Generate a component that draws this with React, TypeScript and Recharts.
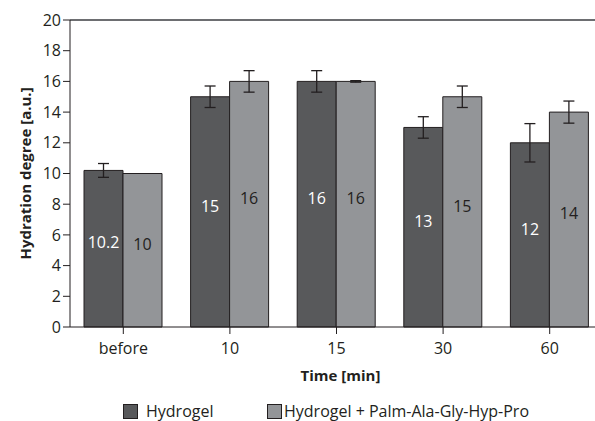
import {
  BarChart,
  Bar,
  XAxis,
  YAxis,
  ErrorBar,
  LabelList,
  Legend,
  ReferenceLine,
} from "recharts";

const times = ["before", "10", "15", "30", "60"];
const hydrogel = [10.2, 15, 16, 13, 12];
const hydrogelErr = [0.45, 0.7, 0.7, 0.7, 1.25];
const peptide = [10, 16, 16, 15, 14];
const peptideErr = [0, 0.7, 0.05, 0.7, 0.72];
const yTicks = [0, 2, 4, 6, 8, 10, 12, 14, 16, 18, 20];

const seriesNames = ["Hydrogel", "Hydrogel + Palm-Ala-Gly-Hyp-Pro"];
const DARK = "#58595b";
const LIGHT = "#939598";
const INK = "#231f20";
const FONT = "'Open Sans', sans-serif";

const data = times.map((time, i) => ({
  time,
  hydrogel: hydrogel[i],
  hydrogelErr: hydrogelErr[i],
  peptide: peptide[i],
  peptideErr: peptideErr[i],
}));

type Box = { x: number; y: number; width: number; height: number };

function YTitle({ viewBox }: { viewBox?: Box }) {
  if (!viewBox) return null;
  const x = viewBox.x + 25;
  const y = viewBox.y + viewBox.height / 2;
  return (
    <text
      x={x}
      y={y}
      transform={`rotate(-90, ${x}, ${y})`}
      textAnchor="middle"
      dominantBaseline="central"
      fontFamily={FONT}
      fontWeight={700}
      fontSize={15}
      fill={INK}
    >
      Hydration degree [a.u.]
    </text>
  );
}

function XTitle({ viewBox }: { viewBox?: Box }) {
  if (!viewBox) return null;
  return (
    <text
      x={viewBox.x + viewBox.width / 2 + 4}
      y={viewBox.y + 48}
      textAnchor="middle"
      dominantBaseline="central"
      fontFamily={FONT}
      fontWeight={700}
      fontSize={15}
      fill={INK}
    >
      Time [min]
    </text>
  );
}

function LegendBox() {
  const swatch = (color: string) => (
    <span
      style={{
        display: "inline-block",
        width: 13,
        height: 13,
        background: color,
        border: `1px solid ${INK}`,
      }}
    />
  );
  return (
    <div
      style={{
        height: 34,
        width: 595,
        display: "flex",
        alignItems: "center",
        paddingTop: 14,
        boxSizing: "border-box",
        fontFamily: FONT,
        fontSize: 16,
        lineHeight: "20px",
        color: INK,
      }}
    >
      <div style={{ marginLeft: 123, width: 144, display: "flex", alignItems: "center", gap: 8 }}>
        {swatch(DARK)}
        <span>{seriesNames[0]}</span>
      </div>
      <div style={{ display: "flex", alignItems: "center", gap: 2 }}>
        {swatch(LIGHT)}
        <span>{seriesNames[1]}</span>
      </div>
    </div>
  );
}

export default function App() {
  return (
    <>
      <style>{`html, body { margin: 0; padding: 0; overflow: hidden; }`}</style>
      <div style={{ position: "relative", width: 595, height: 421, overflow: "hidden", background: "#fff" }}>
        <BarChart
          width={610}
          height={421}
          data={data}
          barSize={39}
          barGap={0}
          margin={{ top: 20, right: 7, bottom: 0, left: 0 }}
        >
          <ReferenceLine y={20} stroke="#6d6e71" strokeWidth={2} />
          <XAxis
            dataKey="time"
            height={60}
            axisLine={{ stroke: INK }}
            tickLine={{ stroke: INK }}
            tickSize={7}
            tickMargin={9}
            tick={{ fontSize: 16, fill: INK, fontFamily: FONT }}
            label={<XTitle />}
          />
          <YAxis
            domain={[0, 20]}
            ticks={yTicks}
            width={70}
            interval={0}
            axisLine={{ stroke: INK }}
            tickLine={{ stroke: INK }}
            tickSize={7}
            tickMargin={2}
            tick={{ fontSize: 16, fill: INK, fontFamily: FONT }}
            label={<YTitle />}
          />
          <Legend
            verticalAlign="bottom"
            align="left"
            content={<LegendBox />}
            wrapperStyle={{ top: 387, left: 0, bottom: "auto", height: 34 }}
          />
          <Bar dataKey="hydrogel" name={seriesNames[0]} fill={DARK} stroke={INK} strokeWidth={1} isAnimationActive={false}>
            <ErrorBar dataKey="hydrogelErr" width={5.5} stroke={INK} strokeWidth={1.3} isAnimationActive={false} />
            <LabelList dataKey="hydrogel" position="center" dy={-6} fill="#ffffff" fontSize={16} fontFamily={FONT} />
          </Bar>
          <Bar dataKey="peptide" name={seriesNames[1]} fill={LIGHT} stroke={INK} strokeWidth={1} isAnimationActive={false}>
            <ErrorBar dataKey="peptideErr" width={5.5} stroke={INK} strokeWidth={1.3} isAnimationActive={false} />
            <LabelList dataKey="peptide" position="center" dy={-6} fill={INK} fontSize={16} fontFamily={FONT} />
          </Bar>
        </BarChart>
      </div>
    </>
  );
}
